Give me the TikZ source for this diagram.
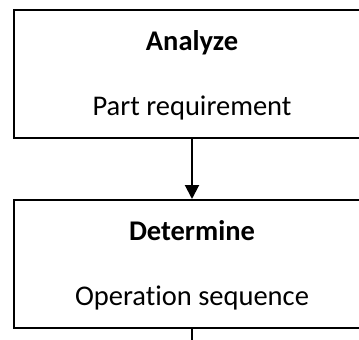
\documentclass[tikz,border=0pt]{standalone}
\usepackage{fontspec}
\setmainfont{Carlito}[RawFeature={-liga;-clig;-dlig;-calt}]
\usetikzlibrary{arrows.meta}

\begin{document}
\begin{tikzpicture}[x=1pt,y=-1pt]
                  \tikzset{every node/.style={inner sep=0pt},
                    stepbox/.style={draw=black,line width=2pt,minimum width=356pt,minimum height=128pt},
                    headtext/.style={anchor=base,font=\fontsize{28.5}{34}\selectfont\bfseries},
                    bodytext/.style={anchor=base,font=\fontsize{28.5}{34}\selectfont},
                    flow/.style={draw=black,line width=2pt}}
                  \useasboundingbox (0,0) rectangle (359,340);
                  \node [stepbox] (analyze) at (192,74) {};
                  \node [headtext] (analyzehead) at (192,50) {Analyze};
                  \node [bodytext] (analyzebody) at (192,115) {Part requirement};
                  \node [stepbox] (determine) at (192,264) {};
                  \node [headtext] (determinehead) at (192,240) {Determine};
                  \node [bodytext] (determinebody) at (192,305) {Operation sequence};
                  \coordinate (exit) at (192,342);
                  \draw [flow,-{Triangle[width=14pt,length=14pt]}] (analyze.south) -- (determine.north);
                  \draw [flow] (determine.south) -- (exit);
\end{tikzpicture}
\end{document}
